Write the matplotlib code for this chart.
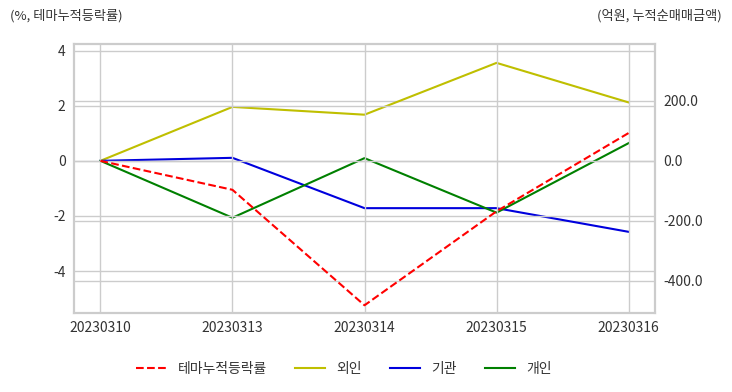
import matplotlib
matplotlib.use("Agg")
import matplotlib.pyplot as plt

plt.rcParams['font.family'] = ['Noto Sans CJK KR', 'DejaVu Sans']

# 데이터
dates = ['20230310', '20230313', '20230314', '20230315', '20230316']
theme_rate = [0.0, -1.05, -5.24, -1.83, 1.01]   # 테마누적등락률 (%)
foreign = [0.0, 180.0, 154.0, 327.0, 195.0]      # 외인 (억원)
institution = [0.0, 10.0, -158.0, -158.0, -237.0]  # 기관
individual = [0.0, -190.0, 9.0, -173.0, 59.0]   # 개인

grid_c = '#cccccc'
text_c = '#333333'

fig = plt.figure(figsize=(7.32, 3.92), dpi=100)
ax = fig.add_axes([74 / 732, 1 - 313 / 392, (655 - 74) / 732, (313 - 44) / 392])
ax2 = ax.twinx()

x = list(range(len(dates)))
l1, = ax.plot(x, theme_rate, color='red', linestyle='--', lw=1.5, label='테마누적등락률')
l2, = ax2.plot(x, foreign, color='#bfbf00', lw=1.5, label='외인')
l3, = ax2.plot(x, institution, color='#0000dd', lw=1.5, label='기관')
l4, = ax2.plot(x, individual, color='green', lw=1.5, label='개인')

ax.set_xlim(-0.2, 4.2)
ax.set_ylim(-5.52, 4.24)
ax2.set_ylim(-508, 390)
ax.set_xticks(x)
ax.set_xticklabels(dates)
ax.set_yticks([-4, -2, 0, 2, 4])
ax.set_yticklabels(['-4', '-2', '0', '2', '4'])
ax2.set_yticks([-400, -200, 0, 200])
ax2.set_yticklabels(['-400.0', '-200.0', '0.0', '200.0'])

for a in (ax, ax2):
    a.grid(True, color=grid_c, lw=1)
    a.tick_params(length=0, labelsize=10, labelcolor=text_c, pad=6)
    for s in a.spines.values():
        s.set_color(grid_c)
        s.set_linewidth(1.5)
ax.set_axisbelow(True)
ax2.set_axisbelow(True)
ax2.grid(axis='x', visible=False)
ax.set_zorder(ax2.get_zorder() + 1)
ax.patch.set_visible(False)

fig.text(10 / 732, 1 - 16 / 392, '(%, 테마누적등락률)', fontsize=9.5, color=text_c, va='center', ha='left')
fig.text(722 / 732, 1 - 16 / 392, '(억원, 누적순매매금액)', fontsize=9.5, color=text_c, va='center', ha='right')

fig.legend(handles=[l1, l2, l3, l4], loc='center', bbox_to_anchor=(0.47, 1 - 369 / 392),
           ncol=4, frameon=False, fontsize=10, handlelength=2.2, columnspacing=2.0,
           labelcolor=text_c)

fig.savefig('out.png', dpi=100)
